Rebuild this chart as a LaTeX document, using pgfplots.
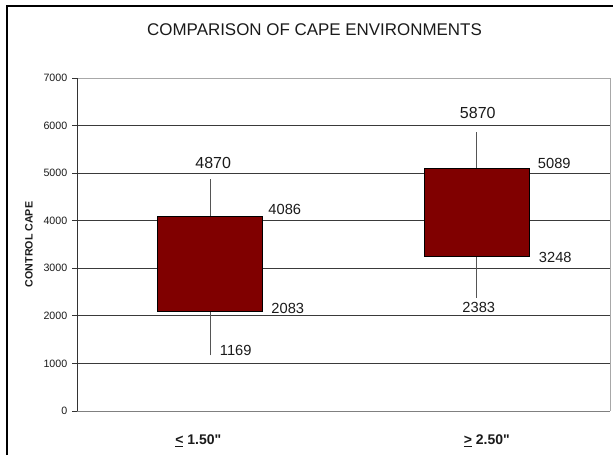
\documentclass[border=0pt]{standalone}
\usepackage{fontspec}
\setmainfont{Liberation Sans}
\usepackage{pgfplots}
\pgfplotsset{compat=1.18}
\definecolor{boxred}{HTML}{800000}
\definecolor{gridc}{HTML}{3A3A3A}
\definecolor{framec}{HTML}{A8A8A8}
\definecolor{bottomc}{HTML}{808080}
\definecolor{axisc}{HTML}{333333}
\definecolor{whiskc}{HTML}{555555}
\definecolor{textc}{HTML}{1A1A1A}
\begin{document}
\begin{tikzpicture}
\useasboundingbox (0,0) rectangle (459.75pt,341.25pt);
\draw[black, line width=0.9pt] (5.25pt,0) -- (5.25pt,336.75pt) -- (459.75pt,336.75pt);
\node[font=\fontsize{12.7}{15}\selectfont, text=textc] at (235.9pt,318.75pt) {COMPARISON OF CAPE ENVIRONMENTS};
\begin{axis}[
  at={(57.75pt,33pt)}, anchor=south west,
  scale only axis, width=399.75pt, height=249.75pt,
  xmin=-0.5, xmax=1.5, ymin=0, ymax=7000,
  ytick={0,1000,...,7000},
  xtick={0,1},
  xticklabels={{\underline{<} 1.50\textquotedbl\hspace*{18pt}},{\hspace*{15pt}\underline{>} 2.50\textquotedbl}},
  axis line style={draw=none},
  ymajorgrids, grid style={draw=gridc, line width=0.75pt},
  tick align=outside, ytick pos=left, major tick length=3.75pt,
  ytick style={draw=axisc, line width=0.75pt},
  xtick style={draw=none},
  /pgf/number format/assume math mode=true,
  /pgf/number format/1000 sep={},
  yticklabel style={font=\fontsize{8}{9}\selectfont, text=textc},
  xticklabel style={font=\bfseries\fontsize{10.5}{12}\selectfont, text=textc, anchor=base, yshift=-21pt},
  ylabel={CONTROL CAPE},
  every axis y label/.style={at={(rel axis cs:-0.09,0.5)}, rotate=90, anchor=center, font=\bfseries\fontsize{8}{9}\selectfont, text=textc},
  clip=false,
]
% whiskers (low to high)
\addplot[whiskc, line width=0.75pt] coordinates {(0,1169) (0,4870)};
\addplot[whiskc, line width=0.75pt] coordinates {(1,2383) (1,5870)};
% boxes (lower to upper)
\addplot[draw=black, fill=boxred, line width=0.75pt] coordinates {(-0.197,2083) (0.197,2083) (0.197,4086) (-0.197,4086)} -- cycle;
\addplot[draw=black, fill=boxred, line width=0.75pt] coordinates {(0.803,3248) (1.197,3248) (1.197,5089) (0.803,5089)} -- cycle;
\draw[framec, line width=0.75pt] (rel axis cs:0,1) -- (rel axis cs:1,1) -- (rel axis cs:1,0);
\draw[bottomc, line width=0.75pt] (rel axis cs:0,0) -- (rel axis cs:1,0);
\draw[axisc, line width=0.75pt] (rel axis cs:0,0) -- (rel axis cs:0,1);
\node[anchor=base, font=\fontsize{12}{14}\selectfont, text=textc, xshift=2.25pt, yshift=8.25pt] at (axis cs:0,4870) {4870};
\node[anchor=base west, font=\fontsize{11}{13}\selectfont, text=textc, xshift=0.75pt, yshift=1.5pt] at (axis cs:0.197,4086) {4086};
\node[anchor=base west, font=\fontsize{11}{13}\selectfont, text=textc, xshift=3pt, yshift=-1.5pt] at (axis cs:0.197,2083) {2083};
\node[anchor=base west, font=\fontsize{11}{13}\selectfont, text=textc, xshift=3.75pt, yshift=0pt] at (axis cs:0,1169) {1169};
\node[anchor=base, font=\fontsize{12}{14}\selectfont, text=textc, xshift=0.75pt, yshift=9.75pt] at (axis cs:1,5870) {5870};
\node[anchor=base west, font=\fontsize{11}{13}\selectfont, text=textc, xshift=3pt, yshift=0pt] at (axis cs:1.197,5089) {5089};
\node[anchor=base west, font=\fontsize{11}{13}\selectfont, text=textc, xshift=3.75pt, yshift=-4.5pt] at (axis cs:1.197,3248) {3248};
\node[anchor=base, font=\fontsize{11}{13}\selectfont, text=textc, xshift=1.5pt, yshift=-11.25pt] at (axis cs:1,2383) {2383};
\end{axis}
\end{tikzpicture}
\end{document}
